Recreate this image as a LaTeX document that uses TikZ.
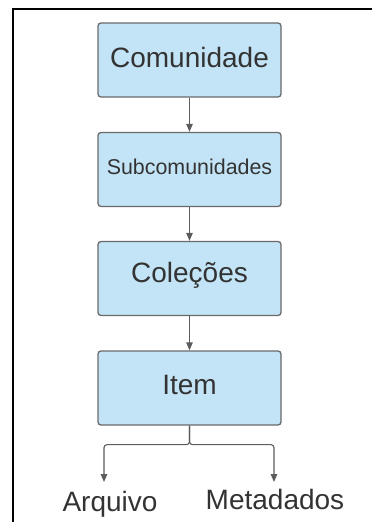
\documentclass[tikz,border=0pt]{standalone}
\usepackage{fontspec}
\setmainfont{Liberation Sans}
\usetikzlibrary{arrows.meta}
\definecolor{boxfill}{HTML}{C3E4F6}
\definecolor{boxline}{HTML}{6A6A6A}
\definecolor{txt}{HTML}{333333}
\definecolor{arr}{HTML}{5C5C5C}
\newcommand{\uplift}[1]{\raisebox{3pt}[\height][\depth]{#1}}
\tikzset{
  levelbox/.style={draw=boxline, fill=boxfill, line width=1.3pt, rounded corners=3pt,
    minimum width=183pt, minimum height=74pt, inner sep=0pt, text=txt, font=\fontsize{28}{30}\selectfont},
  leaf/.style={inner sep=0pt, text=txt, font=\fontsize{28}{30}\selectfont, anchor=base},
  conn/.style={draw=arr, line width=1.1pt, -{Triangle[length=8pt,width=6.5pt]}},
  frame/.style={draw=black, line width=2pt}
}
\begin{document}
\begin{tikzpicture}[x=1pt,y=-1pt]
\useasboundingbox (0,0) rectangle (372,522);
\draw[frame] (13,522) -- (13,9) -- (373,9);
\node[levelbox] (com) at (189.5,60) {\uplift{Comunidade}};
\node[levelbox, font=\fontsize{21.4}{24}\selectfont] (sub) at (189.5,169.5) {\uplift{Subcomunidades}};
\node[levelbox] (col) at (189.5,278.5) {\uplift{Coleções}};
\node[levelbox] (item) at (189.5,388) {\uplift{Item}};
\node[leaf] (arq) at (110,511) {Arquivo};
\node[leaf] (meta) at (275,509) {Metadados};
\coordinate (la) at (104,482);
\coordinate (ra) at (274,482);
\draw[conn] (com) -- (sub);
\draw[conn] (sub) -- (col);
\draw[conn] (col) -- (item);
\draw[conn, rounded corners=3pt] (item.south) -- ++(0,19) -| (la);
\draw[conn, rounded corners=3pt] (item.south) -- ++(0,19) -| (ra);
\end{tikzpicture}
\end{document}
